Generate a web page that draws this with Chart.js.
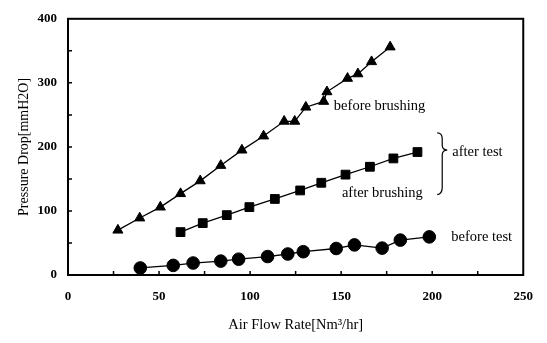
<!DOCTYPE html>
<html>
<head>
<meta charset="utf-8">
<script src="https://cdn.jsdelivr.net/npm/chart.js@4"></script>
<style>
  html, body { margin: 0; padding: 0; background: #fff; }
  #wrap { width: 547px; height: 343px; }
</style>
</head>
<body>
<div id="wrap"><canvas id="pressureChart" width="547" height="343"></canvas></div>
<script>
// air flow rate [Nm3/hr] and pressure drop [mmH2O]
const flowBeforeBrushing = [27.4, 39.4, 50.7, 61.8, 72.6, 83.9, 95.5, 107.4, 118.7, 124.5, 130.6, 140.4, 142.2, 153.5, 159.2, 166.7, 176.9];
const dropBeforeBrushing = [70, 89, 106, 127, 147, 171, 195, 217, 240, 240, 262, 271, 286, 307, 314, 333, 356];

const flowAfterBrushing = [61.8, 74, 87.2, 99.6, 113.6, 127.5, 139.1, 152.4, 165.8, 178.7, 191.9];
const dropAfterBrushing = [67, 81, 93.5, 106, 118.7, 132, 144, 156.7, 169, 182, 192];

const flowBeforeTest = [39.7, 57.8, 68.7, 83.9, 93.7, 109.6, 120.7, 129.2, 147.3, 157.3, 172.5, 182.5, 198.4];
const dropBeforeTest = [11, 15, 18.7, 21.7, 24.7, 28.8, 32.8, 36.4, 41.4, 47, 42, 54.5, 59.5];

const xTickLabels = [0, 50, 100, 150, 200, 250];
const yTickLabels = [0, 100, 200, 300, 400];

// text labels placed in data units
const notes = [
  { text: 'before brushing', x: 146, y: 264 },
  { text: 'after brushing', x: 150.4, y: 127 },
  { text: 'after test', x: 211, y: 192 },
  { text: 'before test', x: 210.5, y: 59.5 }
];

const serif = '"Liberation Serif", "DejaVu Serif", serif';

function pairs(xs, ys) {
  return xs.map((x, i) => ({ x: x, y: ys[i] }));
}

function series(xs, ys, style, r) {
  return {
    data: pairs(xs, ys),
    borderColor: '#000',
    backgroundColor: '#000',
    borderWidth: 1.3,
    pointStyle: style,
    pointRadius: r,
    pointBorderWidth: 1,
    tension: 0
  };
}

// frame, inward ticks, brace and notes
const decorations = {
  id: 'decorations',
  afterDraw(chart) {
    const ctx = chart.ctx;
    const area = chart.chartArea;
    const xs = chart.scales.x;
    const ys = chart.scales.y;
    ctx.save();
    ctx.strokeStyle = '#000';
    ctx.lineWidth = 2;
    ctx.strokeRect(area.left, area.top, area.right - area.left, area.bottom - area.top);

    ctx.lineWidth = 1.5;
    ctx.beginPath();
    for (let v = 25; v < 250; v += 25) {
      const px = xs.getPixelForValue(v);
      ctx.moveTo(px, area.bottom);
      ctx.lineTo(px, area.bottom - 4);
    }
    for (let v = 50; v < 400; v += 50) {
      const py = ys.getPixelForValue(v);
      ctx.moveTo(area.left, py);
      ctx.lineTo(area.left + 4, py);
    }
    ctx.stroke();

    // curly brace joining the two "after test" curves
    const bx = xs.getPixelForValue(205.5);
    const top = ys.getPixelForValue(222);
    const mid = ys.getPixelForValue(195);
    const bot = ys.getPixelForValue(127);
    ctx.lineWidth = 1.2;
    ctx.beginPath();
    ctx.moveTo(bx - 5, top);
    ctx.quadraticCurveTo(bx, top, bx, top + 6);
    ctx.lineTo(bx, mid - 5);
    ctx.quadraticCurveTo(bx, mid, bx + 5, mid);
    ctx.quadraticCurveTo(bx, mid, bx, mid + 5);
    ctx.lineTo(bx, bot - 6);
    ctx.quadraticCurveTo(bx, bot, bx - 5, bot + 1);
    ctx.stroke();

    ctx.fillStyle = '#000';
    ctx.font = '14.5px ' + serif;
    ctx.textAlign = 'left';
    ctx.textBaseline = 'middle';
    notes.forEach(n => {
      ctx.fillText(n.text, xs.getPixelForValue(n.x), ys.getPixelForValue(n.y));
    });
    ctx.restore();
  }
};

new Chart(document.getElementById('pressureChart').getContext('2d'), {
  type: 'line',
  data: {
    datasets: [
      series(flowBeforeBrushing, dropBeforeBrushing, 'triangle', 5.8),
      series(flowAfterBrushing, dropAfterBrushing, 'rect', 6.2),
      series(flowBeforeTest, dropBeforeTest, 'circle', 6.3)
    ]
  },
  options: {
    responsive: false,
    animation: false,
    layout: { padding: { top: 11, right: 22, left: 0, bottom: 0 } },
    plugins: { legend: { display: false }, tooltip: { enabled: false } },
    scales: {
      x: {
        type: 'linear',
        min: 0,
        max: 250,
        afterFit: s => { s.height = 68; },
        afterBuildTicks: s => { s.ticks = xTickLabels.map(v => ({ value: v })); },
        grid: { display: false, drawTicks: false },
        border: { display: false },
        ticks: { padding: 14, color: '#000', maxRotation: 0, font: { family: serif, size: 13, weight: 'bold' } },
        title: {
          display: true,
          text: 'Air Flow Rate[Nm³/hr]',
          color: '#000',
          font: { family: serif, size: 14.5 },
          padding: { top: 0, bottom: 9 }
        }
      },
      y: {
        min: 0,
        max: 400,
        afterFit: s => { s.width = 68; },
        afterBuildTicks: s => { s.ticks = yTickLabels.map(v => ({ value: v })); },
        grid: { display: false, drawTicks: false },
        border: { display: false },
        ticks: { padding: 11, color: '#000', font: { family: serif, size: 13, weight: 'bold' } },
        title: {
          display: true,
          text: 'Pressure Drop[mmH2O]',
          color: '#000',
          font: { family: serif, size: 14 },
          padding: { top: 16, bottom: 0 }
        }
      }
    }
  },
  plugins: [decorations]
});
</script>
</body>
</html>
